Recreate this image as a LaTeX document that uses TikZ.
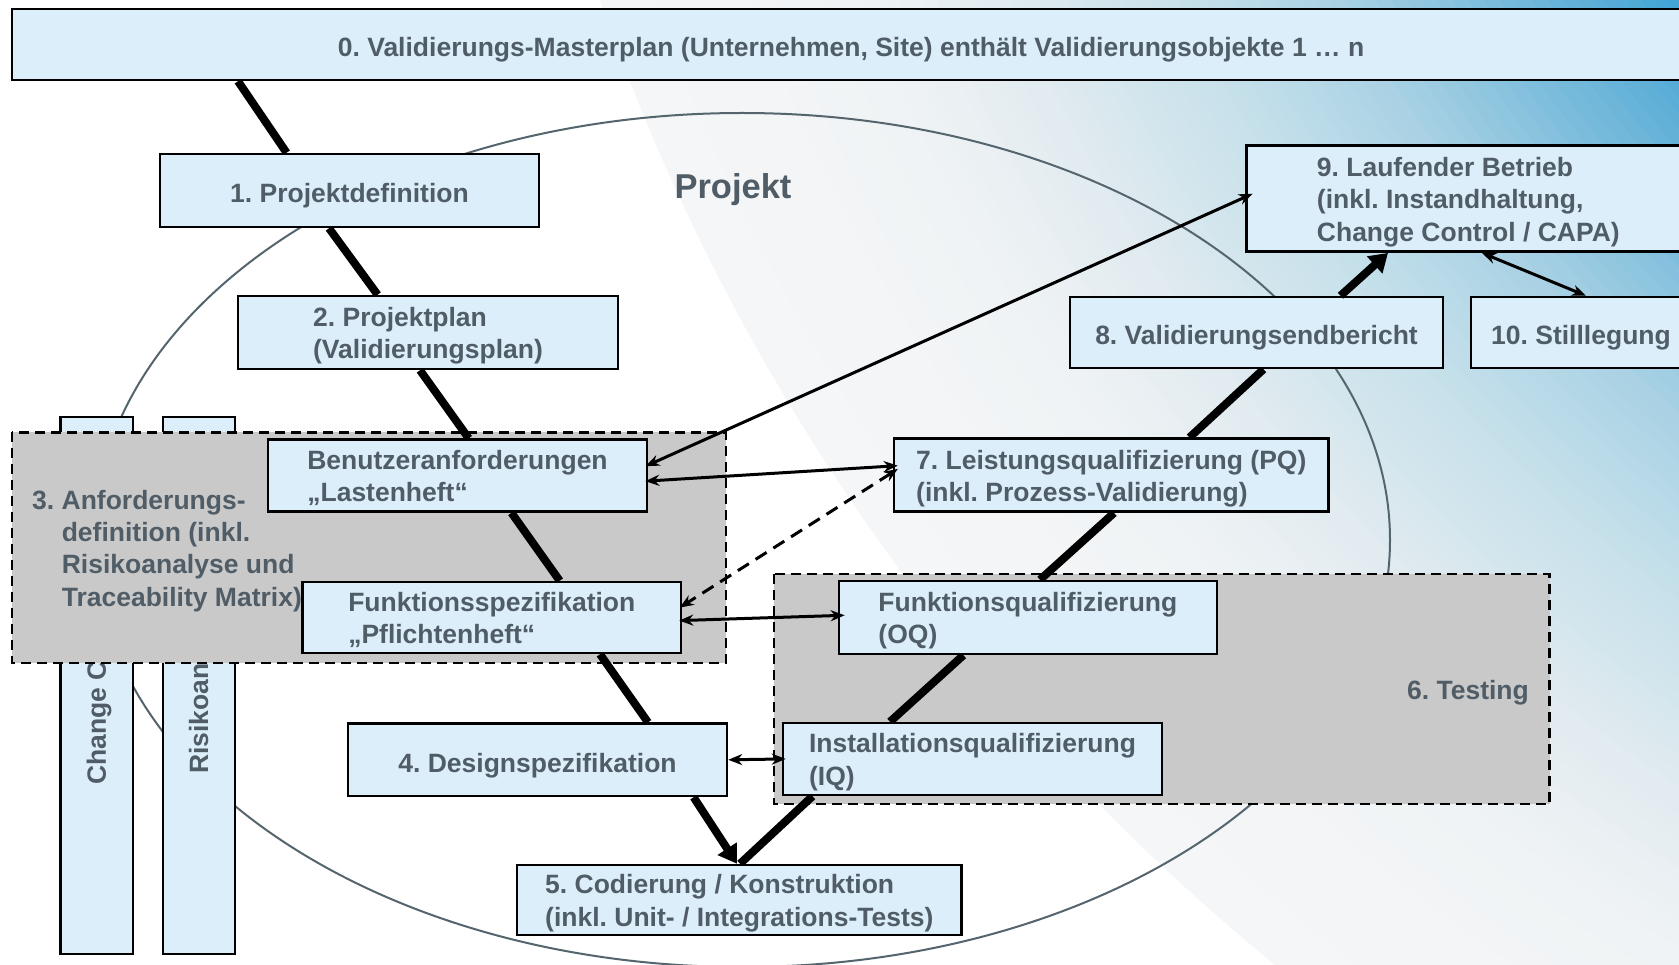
\documentclass[tikz,border=0pt]{standalone}
\usepackage{fontspec}
\setmainfont{Liberation Sans}
\usetikzlibrary{arrows.meta}
\pgfdeclarelayer{back}
\pgfdeclarelayer{mid}
\pgfsetlayers{back,mid,main}
\definecolor{boxblue}{RGB}{221,238,251}
\definecolor{grayfill}{RGB}{201,201,201}
\definecolor{txt}{RGB}{80,93,103}
\definecolor{ellc}{RGB}{85,101,110}
\definecolor{gA}{RGB}{62,164,214}
\definecolor{gAA}{RGB}{95,175,215}
\definecolor{gB}{RGB}{170,210,228}
\definecolor{gC}{RGB}{200,225,235}
\definecolor{gD}{RGB}{225,235,240}
\definecolor{gE}{RGB}{240,243,245}
\definecolor{gF}{RGB}{245,246,247}
\newcommand\mainfs{\bfseries\fontsize{26.5}{32.3}\selectfont\frenchspacing}
\newcommand\fl{\rule{0pt}{0.97em}}
\newcommand\bgseg[5]{%
  \foreach \i in {0,...,#5}{%
    \pgfmathsetmacro\rr{#1-(#1-#2)*\i/#5}%
    \pgfmathsetmacro\pp{100*\i/#5}%
    \fill[#4!\pp!#3] (2646,-712) circle[radius=\rr];}}
\tikzset{
  centred/.style={execute at begin node={\rule{0pt}{0.9em}}, execute at end node={\rule[-0.21em]{0pt}{0pt}}},
  boxcentred/.style={execute at begin node={\rule{0pt}{1.15em}}, execute at end node={\rule[-0.21em]{0pt}{0pt}}},
  box/.style={draw=black, line width=2.5pt, fill=boxblue, text=txt, font=\mainfs, align=left, inner sep=0pt, boxcentred},
  graybox/.style={draw=black, line width=2.5pt, fill=grayfill, dash pattern=on 10pt off 6pt},
  vline/.style={line width=8pt, black},
  tarrow/.style={line width=3pt, black, {Stealth[length=14pt,width=11pt]}-{Stealth[length=14pt,width=11pt]}},
  bigtip/.style={-{Triangle[length=18pt,width=22pt]}},
  lbl/.style={text=txt, font=\mainfs, inner sep=0pt, centred}
}
\begin{document}
\begin{tikzpicture}[x=1pt,y=-1pt]
\useasboundingbox (0,0) rectangle (1679,965);
\begin{pgfonlayer}{back}
  \begin{scope}
    \clip (0,0) rectangle (1679,965);
    \fill[white] (0,0) rectangle (1679,965);
    \fill[gF] (2646,-712) circle[radius=2166];
    \bgseg{2160}{1931}{gF}{gE}{10}
    \bgseg{1931}{1795}{gE}{gD}{12}
    \bgseg{1795}{1642}{gD}{gC}{12}
    \bgseg{1642}{1496}{gC}{gB}{12}
    \bgseg{1496}{1282}{gB}{gAA}{16}
    \bgseg{1282}{1201}{gAA}{gA}{8}
  \end{scope}
  % project ellipse
  \draw[ellc, line width=2pt] (742,540) ellipse[x radius=648, y radius=427];
  \node[text=txt, font=\bfseries\fontsize{34.5}{40}\selectfont, inner sep=0pt, centred] (proj) at (733,187) {Projekt};
  % columns
  \draw[line width=2.5pt, fill=boxblue] (60.7,417) rectangle (133,954);
  \draw[line width=2.5pt, fill=boxblue] (163,417) rectangle (235,954);
  \node[lbl, rotate=90] (cc) at (96.8,685.5) {Change Control};
  \node[lbl, rotate=90] (ra) at (199,685.5) {Risikoanalyse};
  % gray groups
  \draw[graybox] (11.8,432.4) rectangle (725.8,663);
  \draw[graybox] (774,574) rectangle (1549.6,804);
  \node[lbl, anchor=west, align=left] (t3) at (32,551) {3. Anforderungs-\\\hspace*{29.6pt}definition (inkl.\\\hspace*{29.6pt}Risikoanalyse und\\\hspace*{29.6pt}Traceability Matrix)};
  \node[lbl, anchor=east] (t6) at (1529,690) {6. Testing};
\end{pgfonlayer}

% boxes
\node[box, minimum width=1678pt, minimum height=71pt] (b0) at (851,44.5) {0. Validierungs-Masterplan (Unternehmen, Site) enthält Validierungsobjekte 1 … n};
\node[box, minimum width=379pt, minimum height=73pt] (b1) at (349.5,190.5) {1. Projektdefinition};
\node[box, minimum width=380pt, minimum height=73pt] (b2) at (428,332.5) {\fl 2. Projektplan\\(Validierungsplan)};
\node[box, minimum width=379pt, minimum height=72pt] (BenA) at (457.5,475.6) {\fl Benutzeranforderungen\\„Lastenheft“};
\node[box, minimum width=378.4pt, minimum height=71pt] (FunS) at (491.8,617.5) {\fl Funktionsspezifikation\\„Pflichtenheft“};
\node[box, minimum width=379pt, minimum height=72.4pt] (b4) at (537.5,759.8) {4. Designspezifikation};
\node[box, minimum width=444.6pt, minimum height=70pt] (b5) at (739.3,900) {\fl 5. Codierung / Konstruktion\\(inkl. Unit- / Integrations-Tests)};
\node[box, minimum width=379pt, minimum height=72pt] (IQ) at (972.5,759) {\fl Installationsqualifizierung\\(IQ)};
\node[box, minimum width=378pt, minimum height=73pt] (OQ) at (1027.9,617.5) {\fl Funktionsqualifizierung\\(OQ)};
\node[box, minimum width=434.6pt, minimum height=73pt] (b7) at (1111.3,475.2) {\fl 7. Leistungsqualifizierung (PQ)\\(inkl. Prozess-Validierung)};
\node[box, minimum width=373pt, minimum height=71pt] (b8) at (1256.5,332.5) {8. Validierungsendbericht};
\node[box, minimum width=443.4pt, minimum height=106pt] (b9) at (1468.3,198.7) {\fl 9. Laufender Betrieb\\(inkl. Instandhaltung,\\Change Control / CAPA)};
\node[box, minimum width=220pt, minimum height=71pt] (b10) at (1581,332.5) {10. Stilllegung};

% thick V lines
\begin{pgfonlayer}{mid}
  \draw[vline] ([xshift=-613pt]b0.south) -- ([xshift=-62.9pt]b1.north);
  \draw[vline] ([xshift=-20.5pt]b1.south) -- ([xshift=-50.4pt]b2.north);
  \draw[vline] ([xshift=-8pt]b2.south) -- ([xshift=11.2pt]BenA.north);
  \draw[vline] ([xshift=54pt]BenA.south) -- ([xshift=67.9pt]FunS.north);
  \draw[vline] ([xshift=108.2pt]FunS.south) -- ([xshift=110.5pt]b4.north);
  \draw[vline] ([xshift=0.7pt]b5.north) -- ([xshift=-160pt]IQ.south);
  \draw[vline] ([xshift=-82.5pt]IQ.north) -- ([xshift=-64.5pt]OQ.south);
  \draw[vline] ([xshift=12.1pt]OQ.north) -- ([xshift=2.7pt]b7.south);
  \draw[vline] ([xshift=78.2pt]b7.north) -- ([xshift=7pt]b8.south);
\end{pgfonlayer}
\draw[vline, bigtip] ([xshift=156.1pt]b4.south) -- ([xshift=-2.3pt]b5.north);
\draw[vline, bigtip] ([xshift=84pt]b8.north) -- ([xshift=-80.3pt]b9.south);

% thin arrows
\draw[tarrow, shorten <=-3pt, shorten >=-8pt] ([yshift=10.6pt]BenA.east) -- ([yshift=1.7pt]b9.west);
\draw[tarrow, shorten <=-3pt, shorten >=-5pt] ([yshift=-5.4pt]BenA.east) -- ([yshift=9.2pt]b7.west);
\draw[tarrow, dash pattern=on 13pt off 8pt, shorten <=-6pt, shorten >=-3pt] ([yshift=3pt]b7.west) -- ([yshift=11.5pt]FunS.east);
\draw[tarrow, shorten <=-3pt, shorten >=-7pt] ([yshift=-3pt]FunS.east) -- ([yshift=2pt]OQ.west);
\draw[tarrow, shorten >=-4pt] (b4.east) -- (IQ.west);
\draw[tarrow] ([xshift=13.7pt]b9.south) -- ([xshift=5pt]b10.north);
\end{tikzpicture}
\end{document}
